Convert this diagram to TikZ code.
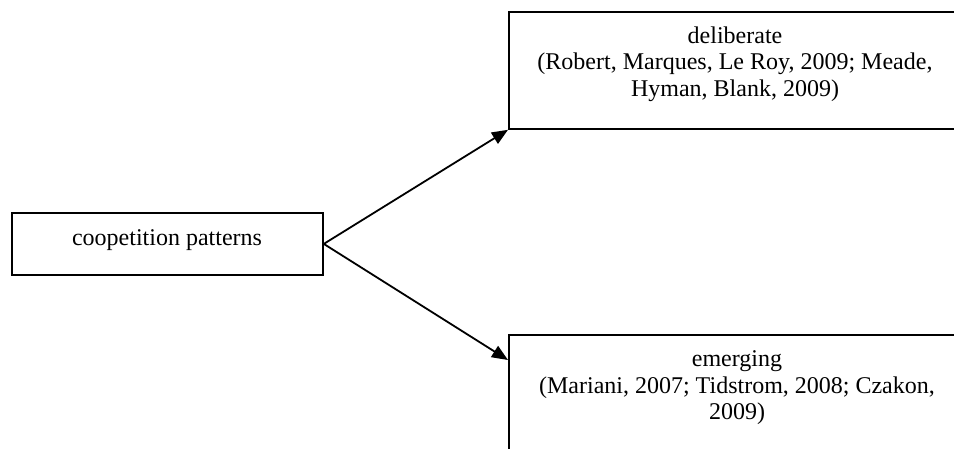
\documentclass[tikz,border=0pt]{standalone}
\usepackage{fontspec}
\setmainfont{Liberation Serif}
\usetikzlibrary{arrows.meta}
\begin{document}
\begin{tikzpicture}[x=1pt,y=-1pt,
  box/.style={draw,line width=1.8pt,rectangle,inner sep=0pt,anchor=north west},
  lbl/.style={font=\fontsize{24}{26.5}\selectfont,align=center,inner sep=0pt},
  conn/.style={line width=1.8pt,-{Triangle[length=16pt,width=13pt]}}]
\useasboundingbox (0,0) rectangle (954,448);
\clip (0,0) rectangle (954,448);
\node[box,minimum width=311pt,minimum height=62pt] (src) at (11,212) {};
\node[box,minimum width=454pt,minimum height=117pt] (top) at (508,11) {};
\node[box,minimum width=454pt,minimum height=140pt] (bot) at (508,334) {};
\node[lbl,anchor=base] (srclbl) at (167,245) {coopetition patterns};
\node[lbl,anchor=north] (toplbl) at (735,26.6) {deliberate\\(Robert, Marques, Le Roy, 2009; Meade,\\Hyman, Blank, 2009)};
\node[lbl,anchor=north] (botlbl) at (737,350.6) {emerging\\(Mariani, 2007; Tidstrom, 2008; Czakon,\\2009)};
\draw[conn] (src.east) -- (top.south west);
\draw[conn] (src.east) -- ([yshift=-26pt]bot.north west);
\end{tikzpicture}
\end{document}
